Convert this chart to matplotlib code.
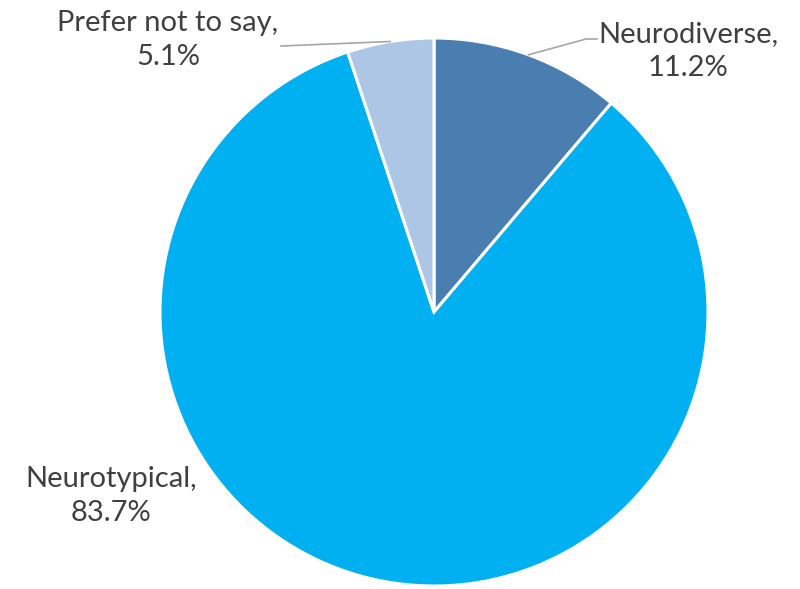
import numpy as np
import matplotlib
matplotlib.use("Agg")
import matplotlib.pyplot as plt

categories = ["Neurodiverse", "Neurotypical", "Prefer not to say"]
values = [11.2, 83.7, 5.1]
colors = ["#4A7EB0", "#00B0F0", "#AEC6E6"]

W, H = 800, 589
fig = plt.figure(figsize=(8, 5.89), dpi=100)
ax = fig.add_axes([0, 0, 1, 1])

cx, cy, R = 434, H - 312, 274
wedges, _ = ax.pie(values, colors=colors, startangle=90, counterclock=False,
                   center=(cx, cy), radius=R, frame=True,
                   wedgeprops=dict(edgecolor="white", linewidth=2.2))
ax.set_xlim(0, W)
ax.set_ylim(0, H)
ax.axis("off")

font = dict(family=["Lato", "DejaVu Sans"], fontsize=21, color="#404040",
            ha="center", va="center", linespacing=1.42)

# label positions (pixel coords, y from top)
label_pos = {"Neurodiverse": (688, 51), "Neurotypical": (111, 496), "Prefer not to say": (168, 40)}
leaders = {"Neurodiverse": [(586, 39), (597, 39)], "Prefer not to say": [(281, 46)]}

for w, cat, v in zip(wedges, categories, values):
    x, y = label_pos[cat]
    ax.text(x, H - y, f"{cat},\n{v}%", **font)
    if cat in leaders:
        ang = np.deg2rad((w.theta1 + w.theta2) / 2)
        pts = [(cx + R * np.cos(ang), cy + R * np.sin(ang))] + [(px, H - py) for px, py in leaders[cat]]
        xs, ys = zip(*pts)
        ax.plot(xs, ys, color="#A6A6A6", lw=1.2)

fig.savefig("out.png", dpi=100)
